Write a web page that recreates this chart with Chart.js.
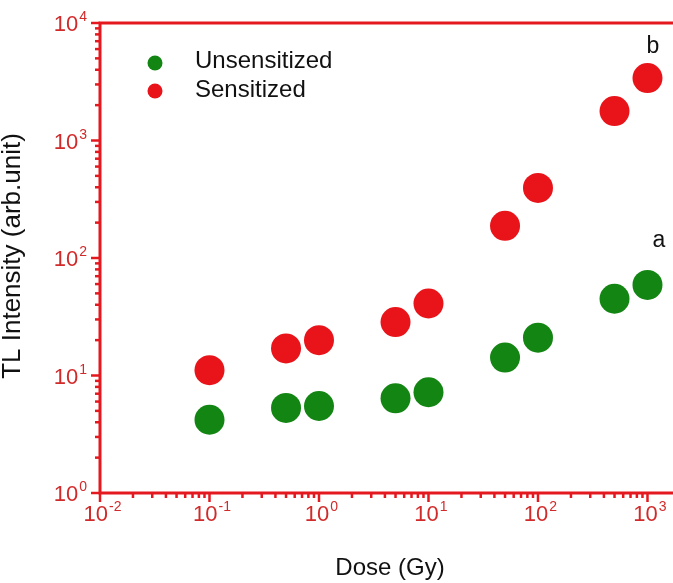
<!DOCTYPE html>
<html>
<head>
<meta charset="utf-8">
<script src="https://cdn.jsdelivr.net/npm/chart.js@4/dist/chart.umd.min.js"></script>
<style>
  html, body { margin: 0; padding: 0; background: #fff; }
  #wrap { width: 673px; height: 583px; }
</style>
</head>
<body>
<div id="wrap"><canvas id="tl-chart" width="673" height="583"></canvas></div>
<script>
// Dose (Gy) for both series
const doses = [0.1, 0.5, 1, 5, 10, 50, 100, 500, 1000];
const unsensitized = [4.2, 5.3, 5.5, 6.4, 7.2, 14.2, 21, 45, 59];
const sensitized = [11.1, 17, 20, 28.5, 41, 188, 395, 1780, 3400];

// decade exponents used for axis ticks
const xDecades = [-2, -1, 0, 1, 2, 3];
const yDecades = [0, 1, 2, 3, 4];

const AXIS_RED = '#e3191f';
const LABEL_RED = '#d12a2a';
const FONT = '"Liberation Sans", Arial, sans-serif';

function toPoints(ys) {
    return doses.map(function(d, i) { return { x: d, y: ys[i] }; });
}

// Log axes with long major / short minor ticks, superscripted decade labels,
// top frame line, axis titles and the "a"/"b" curve tags.
const axesPlugin = {
    id: 'tlAxes',
    afterDraw: function(chart) {
        const ctx = chart.ctx;
        const area = chart.chartArea;
        const xs = chart.scales.x;
        const ys = chart.scales.y;
        ctx.save();

        ctx.strokeStyle = AXIS_RED;
        ctx.lineCap = 'butt';

        // frame: left, bottom, top
        ctx.lineWidth = 3;
        ctx.beginPath();
        ctx.moveTo(area.left, area.top - 1.5);
        ctx.lineTo(area.left, area.bottom + 1.5);
        ctx.moveTo(area.left - 1.5, area.bottom);
        ctx.lineTo(chart.width, area.bottom);
        ctx.moveTo(area.left - 1.5, area.top);
        ctx.lineTo(chart.width, area.top);
        ctx.stroke();

        ctx.lineWidth = 2.5;
        // x ticks (outward, below)
        xDecades.forEach(function(e) {
            for (let m = 1; m <= 9; m++) {
                const v = m * Math.pow(10, e);
                if (v > xs.max) break;
                const px = xs.getPixelForValue(v);
                const len = m === 1 ? 9 : 5;
                ctx.beginPath();
                ctx.moveTo(px, area.bottom);
                ctx.lineTo(px, area.bottom + len);
                ctx.stroke();
            }
        });
        // y ticks (outward, left)
        yDecades.forEach(function(e) {
            for (let m = 1; m <= 9; m++) {
                const v = m * Math.pow(10, e);
                if (v > ys.max + 1e-9) break;
                const py = ys.getPixelForValue(v);
                const len = m === 1 ? 9 : 5;
                ctx.beginPath();
                ctx.moveTo(area.left, py);
                ctx.lineTo(area.left - len, py);
                ctx.stroke();
            }
        });

        // decade labels
        ctx.fillStyle = LABEL_RED;
        ctx.textBaseline = 'alphabetic';
        function label(exp, x, y, align) {
            ctx.font = '22px ' + FONT;
            const base = '10';
            const bw = ctx.measureText(base).width;
            ctx.font = '14px ' + FONT;
            const sup = String(exp);
            const sw = ctx.measureText(sup).width;
            let left;
            if (align === 'right') left = x - bw - sw;
            else left = x - (bw + sw) / 2;
            ctx.font = '22px ' + FONT;
            ctx.textAlign = 'left';
            ctx.fillText(base, left, y);
            ctx.font = '14px ' + FONT;
            ctx.fillText(sup, left + bw + 1, y - 10);
        }
        xDecades.forEach(function(e) {
            label(e, xs.getPixelForValue(Math.pow(10, e)) + 2, area.bottom + 28, 'center');
        });
        yDecades.forEach(function(e) {
            label(e, area.left - 14, ys.getPixelForValue(Math.pow(10, e)) + 8, 'right');
        });

        // axis titles
        ctx.fillStyle = '#111';
        ctx.font = '24px ' + FONT;
        ctx.textAlign = 'center';
        ctx.fillText('Dose (Gy)', 390, 575);
        ctx.save();
        ctx.translate(20, 256);
        ctx.rotate(-Math.PI / 2);
        ctx.font = '26px ' + FONT;
        ctx.fillText('TL Intensity (arb.unit)', 0, 0);
        ctx.restore();

        // curve tags
        ctx.font = '23px ' + FONT;
        ctx.fillText('b', 653, 53);
        ctx.fillText('a', 659, 247);

        // legend
        const legend = [
            { text: 'Unsensitized', color: '#138513', dotY: 63, textY: 68 },
            { text: 'Sensitized', color: '#e8141a', dotY: 91, textY: 97 }
        ];
        ctx.font = '24px ' + FONT;
        legend.forEach(function(item) {
            ctx.fillStyle = item.color;
            ctx.beginPath();
            ctx.arc(155, item.dotY, 7.5, 0, Math.PI * 2);
            ctx.fill();
            ctx.fillStyle = '#111';
            ctx.textAlign = 'left';
            ctx.fillText(item.text, 195, item.textY);
        });

        ctx.restore();
    }
};

new Chart(document.getElementById('tl-chart'), {
    type: 'scatter',
    data: {
        datasets: [
            {
                label: 'Unsensitized',
                data: toPoints(unsensitized),
                backgroundColor: '#138513',
                borderWidth: 0,
                pointRadius: 15,
                pointHoverRadius: 15
            },
            {
                label: 'Sensitized',
                data: toPoints(sensitized),
                backgroundColor: '#e8141a',
                borderWidth: 0,
                pointRadius: 15,
                pointHoverRadius: 15
            }
        ]
    },
    options: {
        responsive: false,
        animation: false,
        layout: { autoPadding: false, padding: { left: 100, top: 23, right: 0, bottom: 90 } },
        plugins: {
            legend: { display: false },
            tooltip: { enabled: false }
        },
        scales: {
            x: {
                type: 'logarithmic',
                min: 0.01,
                max: 1710,
                grid: { display: false, drawTicks: false },
                border: { display: false },
                ticks: { display: false }
            },
            y: {
                type: 'logarithmic',
                min: 1,
                max: 10000,
                grid: { display: false, drawTicks: false },
                border: { display: false },
                ticks: { display: false }
            }
        }
    },
    plugins: [axesPlugin]
});
</script>
</body>
</html>
